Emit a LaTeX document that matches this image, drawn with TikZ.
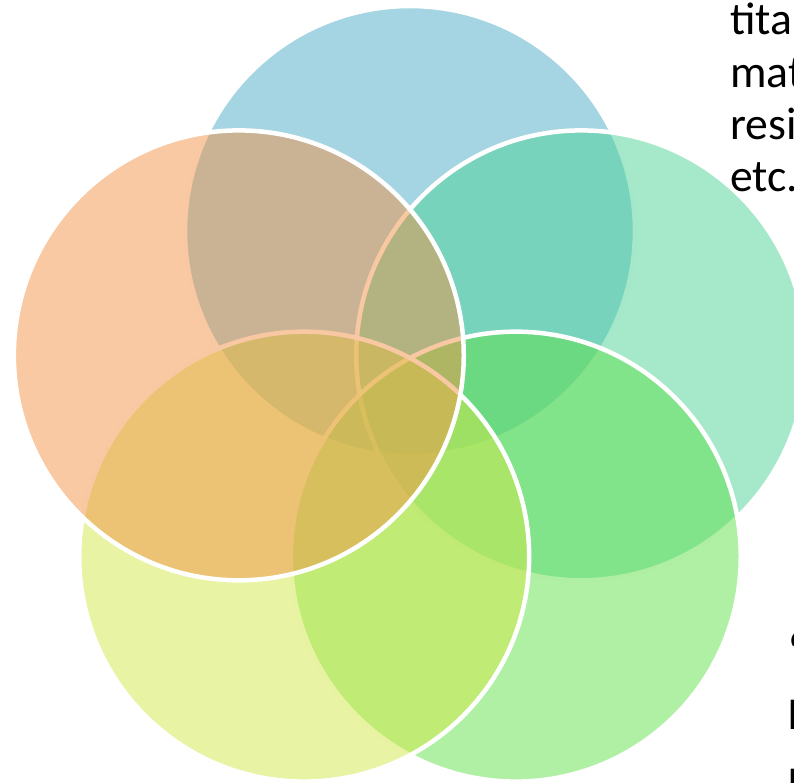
\documentclass[tikz,border=0pt]{standalone}
\usepackage{fontspec}
\setmainfont{Carlito}
\usepackage{xcolor}
\usetikzlibrary{calc,positioning}
\definecolor{petalblue}{HTML}{4BAAC6}
\definecolor{petalteal}{HTML}{4BD195}
\definecolor{petalgreen}{HTML}{61E14B}
\definecolor{petallime}{HTML}{D1E747}
\definecolor{petalorange}{HTML}{F19347}
\tikzset{
  petal/.style={
    circle, inner sep=0pt, minimum size=9cm,
    fill=#1, fill opacity=0.5, draw=white, line width=0.09cm
  },
  sidetext/.style={
    inner sep=0pt, anchor=base west, text=black,
    font=\fontsize{26}{30}\selectfont
  }
}
\newcommand{\petalcircle}[3]{%
  \node[petal=#3] (#1) at ($(hub)+(#2:180)$) {};%
}

\begin{document}
\begin{tikzpicture}[x=0.02cm, y=0.02cm]
    \useasboundingbox (0,0) rectangle (794,783);
    \clip (0,0) rectangle (794,783);
    \coordinate (hub) at (410,372);
    % five petals, clockwise from the top
    \petalcircle{top}{90}{petalblue}
    \petalcircle{right}{18}{petalteal}
    \petalcircle{lowright}{-54}{petalgreen}
    \petalcircle{lowleft}{-126}{petallime}
    \petalcircle{left}{162}{petalorange}
    % text running off the right edge
    \node[sidetext] (line1) at (730,748) {tita};
    \node[sidetext] (line2) at (730,695) {mat};
    \node[sidetext] (line3) at (730,643) {resi};
    \node[sidetext] (line4) at (730,591) {etc.};
    \node[sidetext, font=\fontsize{26}{30}\selectfont\bfseries] (quote) at (788,116) {“};
    \node[sidetext] (line5) at (787,53) {I};
    \node[sidetext] (line6) at (787,-16) {I};
\end{tikzpicture}
\end{document}
